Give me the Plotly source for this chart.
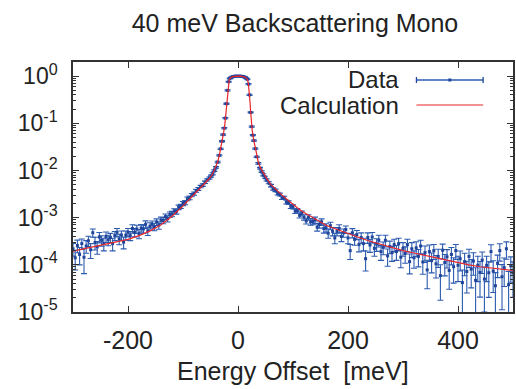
import plotly.graph_objects as go

# ---------------- data ----------------
data_x = [
    -300, -296, -292, -288, -284, -280, -276, -272, -268, -264,
    -260, -256, -252, -248, -244, -240, -236, -232, -228, -224,
    -220, -216, -212, -208, -204, -200, -196, -192, -188, -184,
    -180, -176, -172, -168, -164, -160, -156, -152, -148, -144,
    -140, -136, -132, -128, -124, -120, -116, -112, -108, -104,
    -100, -96, -92, -88, -84, -80, -76, -72, -68, -64,
    -60, -56, -52,
    -49, -46, -43, -40, -37, -34, -31.5, -29, -27, -25, -23, -21, -19, -17, -15,
    -12.5, -10, -7.5, -5, -2.5, 0, 2.5, 5, 7.5, 10, 12.5,
    15, 17, 19, 21, 23, 25, 27, 29, 31.5, 34, 37, 40, 43, 46, 49,
    52, 56, 60, 64, 68, 72, 76, 80, 84, 88,
    92, 96, 100, 104, 108, 112, 116, 120, 124, 128,
    132, 136, 140, 144, 148, 152, 156, 160, 164, 168,
    172, 176, 180, 184, 188, 192, 196, 200, 204, 208,
    212, 216, 220, 224, 228, 232, 236, 240, 244, 248,
    252, 256, 260, 264, 268, 272, 276, 280, 284, 288,
    292, 296, 300, 304, 308, 312, 316, 320, 324, 328,
    332, 336, 340, 344, 348, 352, 356, 360, 364, 368,
    372, 376, 380, 384, 388, 392, 396, 400, 404, 408,
    412, 416, 420, 424, 428, 432, 436, 440, 444, 448,
    452, 456, 460, 464, 468, 472, 476, 480, 484, 488,
    492, 496, 500,
]
data_y = [
    2.19e-4, 1.41e-4, 2.57e-4, 1.66e-4, 2.82e-4, 1.45e-4, 2.51e-4, 3.24e-4, 2.09e-4, 4.79e-4,
    2.95e-4, 2.40e-4, 3.89e-4, 3.31e-4, 2.82e-4, 3.98e-4, 3.39e-4, 3.80e-4, 2.82e-4, 4.17e-4,
    4.90e-4, 3.55e-4, 4.27e-4, 3.02e-4, 4.27e-4, 4.90e-4, 4.17e-4, 5.89e-4, 4.90e-4, 5.75e-4,
    4.57e-4, 6.03e-4, 5.75e-4, 7.24e-4, 5.25e-4, 6.61e-4, 7.24e-4, 6.46e-4, 8.13e-4, 6.92e-4,
    8.91e-4, 8.71e-4, 1.05e-3, 9.55e-4, 1.17e-3, 1.20e-3, 1.38e-3, 1.35e-3, 1.66e-3, 1.74e-3,
    2.00e-3, 2.09e-3, 2.51e-3, 2.63e-3, 3.02e-3, 3.24e-3, 3.72e-3, 4.07e-3, 4.57e-3, 4.90e-3,
    5.62e-3, 6.31e-3, 6.92e-3,
    7.6e-3, 8.5e-3, 1.0e-2, 1.17e-2, 1.51e-2, 2.09e-2, 2.88e-2, 4.17e-2, 5.75e-2, 7.9e-2, 0.129, 0.26, 0.50, 0.76, 0.89,
    0.94, 0.97, 0.99, 1.0, 1.0, 1.0, 1.0, 1.0, 0.99, 0.975, 0.95,
    0.91, 0.86, 0.68, 0.40, 0.17, 0.085, 0.056, 0.043, 0.029, 0.0195, 0.0142, 0.0112, 0.0095, 0.0081, 0.0072,
    6.31e-3, 5.50e-3, 4.79e-3, 4.07e-3, 3.80e-3, 3.24e-3, 3.09e-3, 2.63e-3, 2.63e-3, 2.14e-3,
    2.09e-3, 1.74e-3, 1.70e-3, 1.38e-3, 1.41e-3, 1.12e-3, 1.23e-3, 1.02e-3, 8.51e-4, 1.02e-3,
    8.13e-4, 8.32e-4, 8.91e-4, 6.31e-4, 7.24e-4, 8.13e-4, 5.89e-4, 6.17e-4, 4.68e-4, 6.76e-4,
    5.13e-4, 3.72e-4, 5.13e-4, 5.89e-4, 3.98e-4, 4.79e-4, 5.62e-4, 3.72e-4, 2.00e-4, 4.79e-4,
    3.47e-4, 4.37e-4, 2.69e-4, 3.80e-4, 2.82e-4, 1.35e-4, 3.80e-4, 2.63e-4, 3.89e-4, 2.24e-4,
    2.75e-4, 3.31e-4, 1.91e-4, 2.34e-4, 3.31e-4, 1.55e-4, 2.45e-4, 1.82e-4, 2.69e-4, 1.91e-4,
    2.82e-4, 1.45e-4, 2.24e-4, 1.74e-4, 2.69e-4, 1.17e-4, 2.19e-4, 1.41e-4, 2.29e-4, 1.51e-4,
    2.51e-4, 1.15e-4, 1.82e-4, 7.8e-5, 1.91e-4, 1.23e-4, 2.00e-4, 1.05e-4, 1.51e-4, 5.9e-5,
    2.04e-4, 1.12e-4, 1.48e-4, 7.6e-5, 1.66e-4, 9.1e-5, 2.00e-4, 9.8e-5, 1.35e-4, 4.2e-5,
    1.17e-4, 7.2e-5, 1.51e-4, 8.1e-5, 1.20e-4, 4.7e-5, 9.8e-5, 6.9e-5, 1.26e-4, 5.0e-5,
    9.8e-5, 6.8e-5, 1.91e-4, 7.4e-5, 3.6e-5, 1.07e-4, 2.00e-4, 5.6e-5, 8.7e-5, 2.19e-4,
    3.8e-5, 9.5e-5, 6.8e-5,
]
# relative (fractional) error of each data point
data_rel_err = [
    0.3, 0.45, 0.3, 0.4, 0.25, 0.55, 0.3, 0.25, 0.35, 0.2,
    0.3, 0.3, 0.25, 0.25, 0.3, 0.25, 0.25, 0.22, 0.3, 0.22,
    0.2, 0.25, 0.22, 0.28, 0.22, 0.2, 0.22, 0.2, 0.2, 0.2,
    0.22, 0.18, 0.2, 0.18, 0.2, 0.18, 0.17, 0.18, 0.16, 0.18,
    0.15, 0.15, 0.14, 0.15, 0.13, 0.13, 0.12, 0.12, 0.11, 0.1,
    0.1, 0.1, 0.09, 0.09, 0.08, 0.08, 0.07, 0.07, 0.06, 0.06,
    0.06, 0.05, 0.05,
    0.05, 0.05, 0.04, 0.04, 0.04, 0.03, 0.03, 0.03, 0.03, 0.03, 0.03, 0.03, 0.03, 0.02, 0.02,
    0.02, 0.02, 0.02, 0.02, 0.02, 0.02, 0.02, 0.02, 0.02, 0.02, 0.02,
    0.02, 0.02, 0.03, 0.03, 0.03, 0.03, 0.03, 0.03, 0.03, 0.03, 0.04, 0.04, 0.04, 0.05, 0.05,
    0.05, 0.05, 0.06, 0.06, 0.06, 0.07, 0.07, 0.08, 0.08, 0.09,
    0.09, 0.1, 0.1, 0.11, 0.11, 0.12, 0.12, 0.13, 0.14, 0.13,
    0.15, 0.15, 0.15, 0.18, 0.17, 0.16, 0.2, 0.2, 0.22, 0.18,
    0.2, 0.25, 0.2, 0.2, 0.22, 0.2, 0.18, 0.25, 0.35, 0.22,
    0.25, 0.22, 0.3, 0.25, 0.3, 0.45, 0.25, 0.3, 0.25, 0.32,
    0.3, 0.28, 0.35, 0.3, 0.28, 0.4, 0.3, 0.35, 0.3, 0.35,
    0.3, 0.4, 0.32, 0.38, 0.3, 0.45, 0.35, 0.4, 0.35, 0.4,
    0.32, 0.45, 0.38, 0.6, 0.38, 0.45, 0.35, 0.5, 0.42, 0.7,
    0.35, 0.48, 0.42, 0.6, 0.4, 0.55, 0.35, 0.55, 0.45, 0.85,
    0.5, 0.65, 0.42, 0.6, 0.5, 0.85, 0.55, 0.7, 0.48, 0.8,
    0.55, 0.7, 0.4, 0.65, 0.9, 0.5, 0.4, 0.8, 0.6, 0.4,
    0.9, 0.55, 0.7,
]

calc_x = [-300, -280, -260, -240, -220, -200, -180, -160, -140, -120, -100, -90, -80, -70, -60,
          -52, -46, -41, -37, -34, -31.5, -29, -26, -24, -23, -22, -21, -20, -19, -18, -17, -16,
          -14, -12, -10, -7, -4, 0, 4, 7, 10, 12, 14, 16, 17, 18, 19, 20, 21, 22, 23, 24, 26,
          28.5, 31, 34, 37, 41, 46, 52, 60, 70, 80, 90, 100, 110, 120, 140, 160, 180, 200, 220,
          240, 260, 280, 300, 320, 340, 360, 380, 400, 420, 440, 460, 480, 500]
calc_y = [1.95e-4, 2.19e-4, 2.45e-4, 2.75e-4, 3.09e-4, 3.47e-4, 4.17e-4, 5.25e-4, 7.08e-4, 1.07e-3,
          1.78e-3, 2.34e-3, 3.09e-3, 4.07e-3, 5.37e-3,
          6.76e-3, 8.5e-3, 1.12e-2, 1.51e-2, 2.09e-2, 2.88e-2, 4.17e-2, 6.5e-2, 9.3e-2, 0.125, 0.175,
          0.255, 0.36, 0.49, 0.63, 0.75, 0.84,
          0.92, 0.955, 0.975, 0.99, 0.998, 1.0, 0.998, 0.99, 0.975, 0.96, 0.935, 0.89, 0.85, 0.78,
          0.67, 0.53, 0.39, 0.27, 0.175, 0.115, 0.068,
          0.045, 0.031, 0.0205, 0.0148, 0.0112, 0.0087, 0.0068, 0.0050, 0.0038, 0.0030, 0.0024,
          0.0019, 1.55e-3, 1.29e-3, 9.3e-4, 6.9e-4, 5.6e-4, 4.7e-4, 3.8e-4,
          3.16e-4, 2.69e-4, 2.29e-4, 2.0e-4, 1.78e-4, 1.58e-4, 1.38e-4, 1.23e-4, 1.10e-4, 1.0e-4,
          9.1e-5, 8.5e-5, 7.9e-5, 7.6e-5]

x_tick_vals = [-200, 0, 200, 400]
x_tick_text = ["-200", "0", "200", "400"]
y_tick_exps = [0, -1, -2, -3, -4, -5]

title_text = "40 meV Backscattering Mono"
x_title = "Energy Offset\u00a0 [meV]"
legend_names = ["Data", "Calculation"]

# ---------------- styling ----------------
FONT = "Liberation Sans, Arial, Helvetica, sans-serif"
TXT = "#222222"
BLUE = "#2d5bb0"
BLUE_DARK = "#1f449a"
RED = "#e8262c"
AX = "#333333"

W, H = 516, 389
ML, MR, MT, MB = 73, 1, 62, 77
PW, PH = W - ML - MR, H - MT - MB


def px2paper(px, py):
    return (px - ML) / PW, (H - MB - py) / PH


err_abs = [y * r for y, r in zip(data_y, data_rel_err)]

fig = go.Figure()
fig.add_trace(go.Scatter(
    x=data_x, y=data_y, mode="markers", name=legend_names[0],
    marker=dict(color=BLUE_DARK, size=3, symbol="square"),
    error_y=dict(type="data", array=err_abs, visible=True, color=BLUE,
                 thickness=1.1, width=3),
    showlegend=False,
))
fig.add_trace(go.Scatter(
    x=calc_x, y=calc_y, mode="lines", name=legend_names[1],
    line=dict(color=RED, width=1.2),
    showlegend=False,
))

y_tick_vals = [10.0 ** e for e in y_tick_exps]
y_tick_text = ["10<sup>%s</sup>" % ("-%d" % -e if e < 0 else "%d" % e) for e in y_tick_exps]
minor_vals = [m * 10.0 ** e for e in range(-5, 1) for m in range(2, 10)]

fig.update_layout(
    width=W, height=H,
    margin=dict(l=ML, r=MR, t=MT, b=MB, pad=0),
    paper_bgcolor="white", plot_bgcolor="white",
    font=dict(family=FONT, color=TXT, size=25),
    title=dict(text=title_text, x=295 / W, xref="container", xanchor="center",
               y=1 - 23 / H, yref="container", yanchor="middle",
               font=dict(size=25, color=TXT, family=FONT)),
    xaxis=dict(range=[-300, 500], tickmode="array", tickvals=x_tick_vals, ticktext=x_tick_text,
               ticks="inside", ticklen=6, tickcolor=AX, tickwidth=1.2,
               showline=True, linecolor=AX, linewidth=1.5, mirror="ticks",
               showgrid=False, zeroline=False, ticklabelstandoff=5,
               tickfont=dict(size=25, color=TXT, family=FONT)),
    yaxis=dict(type="log", range=[-5, 0.3], tickmode="array", tickvals=y_tick_vals,
               ticktext=y_tick_text,
               ticks="inside", ticklen=6, tickcolor=AX, tickwidth=1.2,
               minor=dict(tickmode="array", tickvals=minor_vals, ticks="inside", ticklen=3,
                          tickcolor=AX, tickwidth=1, showgrid=False),
               showline=True, linecolor=AX, linewidth=1.5, mirror="ticks",
               showgrid=False, zeroline=False, ticklabelstandoff=9,
               tickfont=dict(size=23, color=TXT, family=FONT)),
)

# axis title
fig.add_annotation(text=x_title, xref="paper", yref="paper", x=0.5,
                   y=px2paper(0, 371)[1], xanchor="center", yanchor="middle",
                   showarrow=False, font=dict(size=25, color=TXT, family=FONT))

# custom legend (text left, sample right, like gnuplot)
lx0, _ = px2paper(418, 0)
lx1, _ = px2paper(485, 0)
lxc = (lx0 + lx1) / 2
ltext, _ = px2paper(402, 0)
_, ly1 = px2paper(0, 80)
_, ly2 = px2paper(0, 105)
_, cap = px2paper(0, H - MB - 3)

fig.add_annotation(text=legend_names[0], xref="paper", yref="paper", x=ltext, y=ly1,
                   xanchor="right", yanchor="middle", showarrow=False,
                   font=dict(size=24, color=TXT, family=FONT))
fig.add_annotation(text=legend_names[1], xref="paper", yref="paper", x=ltext, y=ly2,
                   xanchor="right", yanchor="middle", showarrow=False,
                   font=dict(size=24, color=TXT, family=FONT))
fig.add_shape(type="line", xref="paper", yref="paper", x0=lx0, x1=lx1, y0=ly1, y1=ly1,
              line=dict(color=BLUE, width=1.3))
for xx in (lx0, lx1):
    fig.add_shape(type="line", xref="paper", yref="paper", x0=xx, x1=xx, y0=ly1 - cap,
                  y1=ly1 + cap, line=dict(color=BLUE_DARK, width=1.3))
fig.add_shape(type="rect", xref="paper", yref="paper", x0=lxc - 1.5 / PW, x1=lxc + 1.5 / PW,
              y0=ly1 - 1.5 / PH, y1=ly1 + 1.5 / PH, line=dict(width=0), fillcolor=BLUE_DARK)
fig.add_shape(type="line", xref="paper", yref="paper", x0=lx0, x1=lx1, y0=ly2, y1=ly2,
              line=dict(color=RED, width=1.2))

fig.write_html(
    "out.html",
    config={"displayModeBar": False},
    post_script="document.body.style.margin='0';document.body.style.overflow='hidden';",
)
